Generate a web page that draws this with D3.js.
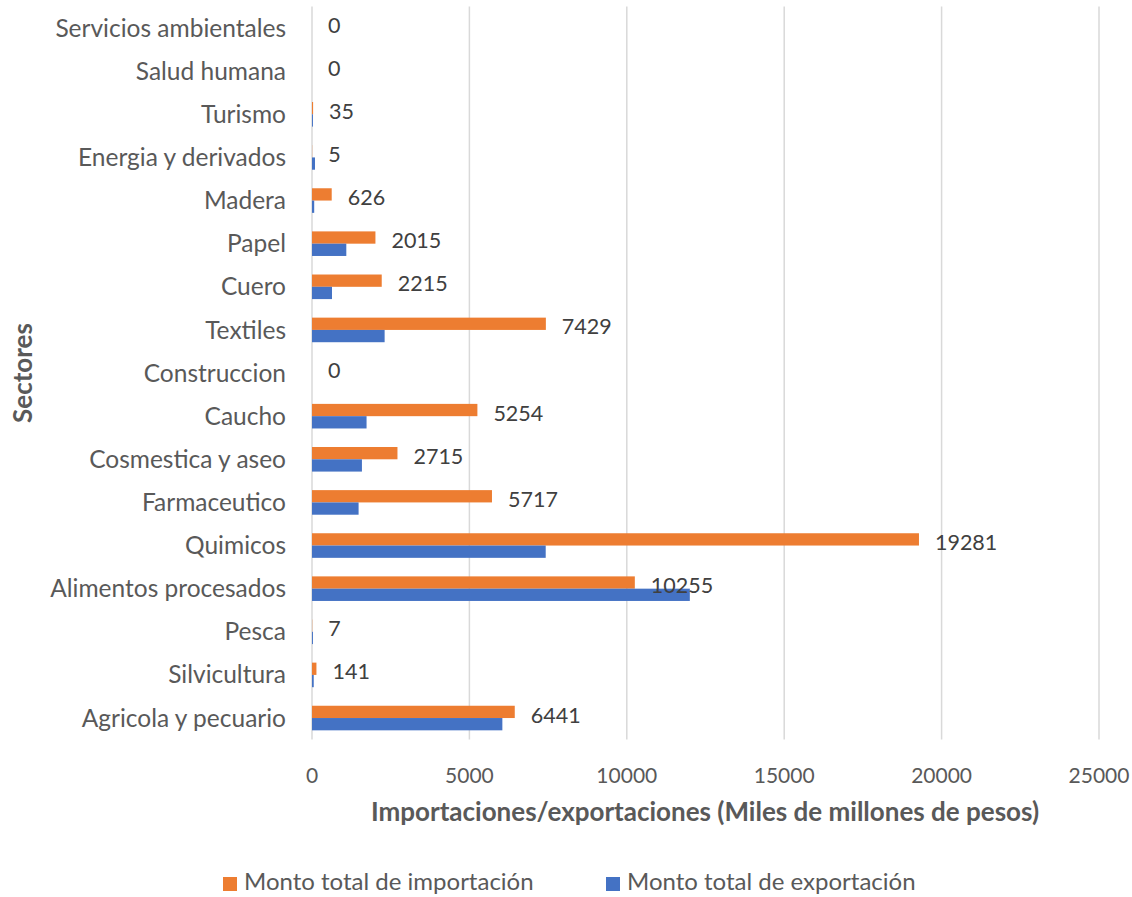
<!DOCTYPE html>
<html><head><meta charset="utf-8">
<script src="https://cdn.jsdelivr.net/npm/d3@7"></script>
<style>body{margin:0;background:#fff}svg{display:block;font-family:Lato,"Open Sans",sans-serif}</style>
</head><body><svg id="c" width="1132" height="897"></svg>
<script>
const categories = ["Agricola y pecuario","Silvicultura","Pesca","Alimentos procesados","Quimicos","Farmaceutico","Cosmestica y aseo","Caucho","Construccion","Textiles","Cuero","Papel","Madera","Energia y derivados","Turismo","Salud humana","Servicios ambientales"];
const importValues = [6441,141,7,10255,19281,5717,2715,5254,0,7429,2215,2015,626,5,35,0,0];
const exportValues = [6047,55,30,12002,7424,1480,1586,1733,0,2307,635,1090,70,95,30,0,0];
const xTicks = [0,5000,10000,15000,20000,25000];
const seriesNames = ["Monto total de importación","Monto total de exportación"];
const colors = ["#ED7D31","#4472C4"];

(function(){
const svg = d3.select("#c");
const pL = 312, pR = 1099, pT = 6.5, pB = 739.6;
const x = d3.scaleLinear().domain([0,25000]).range([pL,pR]);
const y = d3.scaleBand().domain(categories.slice().reverse()).range([pT,pB]).paddingInner(0.43).paddingOuter(0.215);
const sub = d3.scaleBand().domain([0,1]).range([0,y.bandwidth()]);

svg.append("g").selectAll("line").data(xTicks).join("line")
  .attr("x1",d=>x(d)).attr("x2",d=>x(d)).attr("y1",pT).attr("y2",pB)
  .attr("stroke","#d9d9d9").attr("stroke-width",1.5);

svg.append("g").selectAll("text").data(xTicks).join("text")
  .attr("x",d=>x(d)).attr("y",783).attr("text-anchor","middle")
  .attr("font-size",21).attr("fill","#595959").text(d=>d);

svg.append("g").selectAll("text").data(categories).join("text")
  .attr("x",286).attr("y",d=>y(d)+y.bandwidth()/2).attr("dy","0.35em").attr("text-anchor","end")
  .attr("font-size",24.5).attr("fill","#595959").text(d=>d);

const rows = categories.map((c,i)=>({c,imp:importValues[i],exp:exportValues[i]}));
const g = svg.append("g");
g.selectAll("rect.imp").data(rows).join("rect").attr("class","imp")
  .attr("x",x(0)).attr("y",d=>y(d.c)+sub(0)).attr("height",sub.bandwidth())
  .attr("width",d=>x(d.imp)-x(0)).attr("fill",colors[0]);
g.selectAll("rect.exp").data(rows).join("rect").attr("class","exp")
  .attr("x",x(0)).attr("y",d=>y(d.c)+sub(1)).attr("height",sub.bandwidth())
  .attr("width",d=>x(d.exp)-x(0)).attr("fill",colors[1]);

g.selectAll("text.v").data(rows).join("text").attr("class","v")
  .attr("x",d=>x(d.imp)+16).attr("y",d=>y(d.c)+y.bandwidth()/2 - 3).attr("dy","0.35em")
  .attr("font-size",21.5).attr("fill","#404040").text(d=>d.imp);

svg.append("text").attr("x",705).attr("y",821).attr("text-anchor","middle")
  .attr("font-size",26).attr("font-weight","bold").attr("fill","#595959")
  .text("Importaciones/exportaciones (Miles de millones de pesos)");
svg.append("text").attr("transform","translate(32,373) rotate(-90)").attr("text-anchor","middle")
  .attr("font-size",26).attr("font-weight","bold").attr("fill","#595959").text("Sectores");

const leg = svg.append("g");
const legX = [223,606];
seriesNames.forEach((n,i)=>{
  leg.append("rect").attr("x",legX[i]).attr("y",877).attr("width",14).attr("height",14).attr("fill",colors[i]);
  leg.append("text").attr("x",legX[i]+21).attr("y",882).attr("dy","0.35em").attr("font-size",24).attr("fill","#595959").text(n);
});
})();
</script></body></html>
